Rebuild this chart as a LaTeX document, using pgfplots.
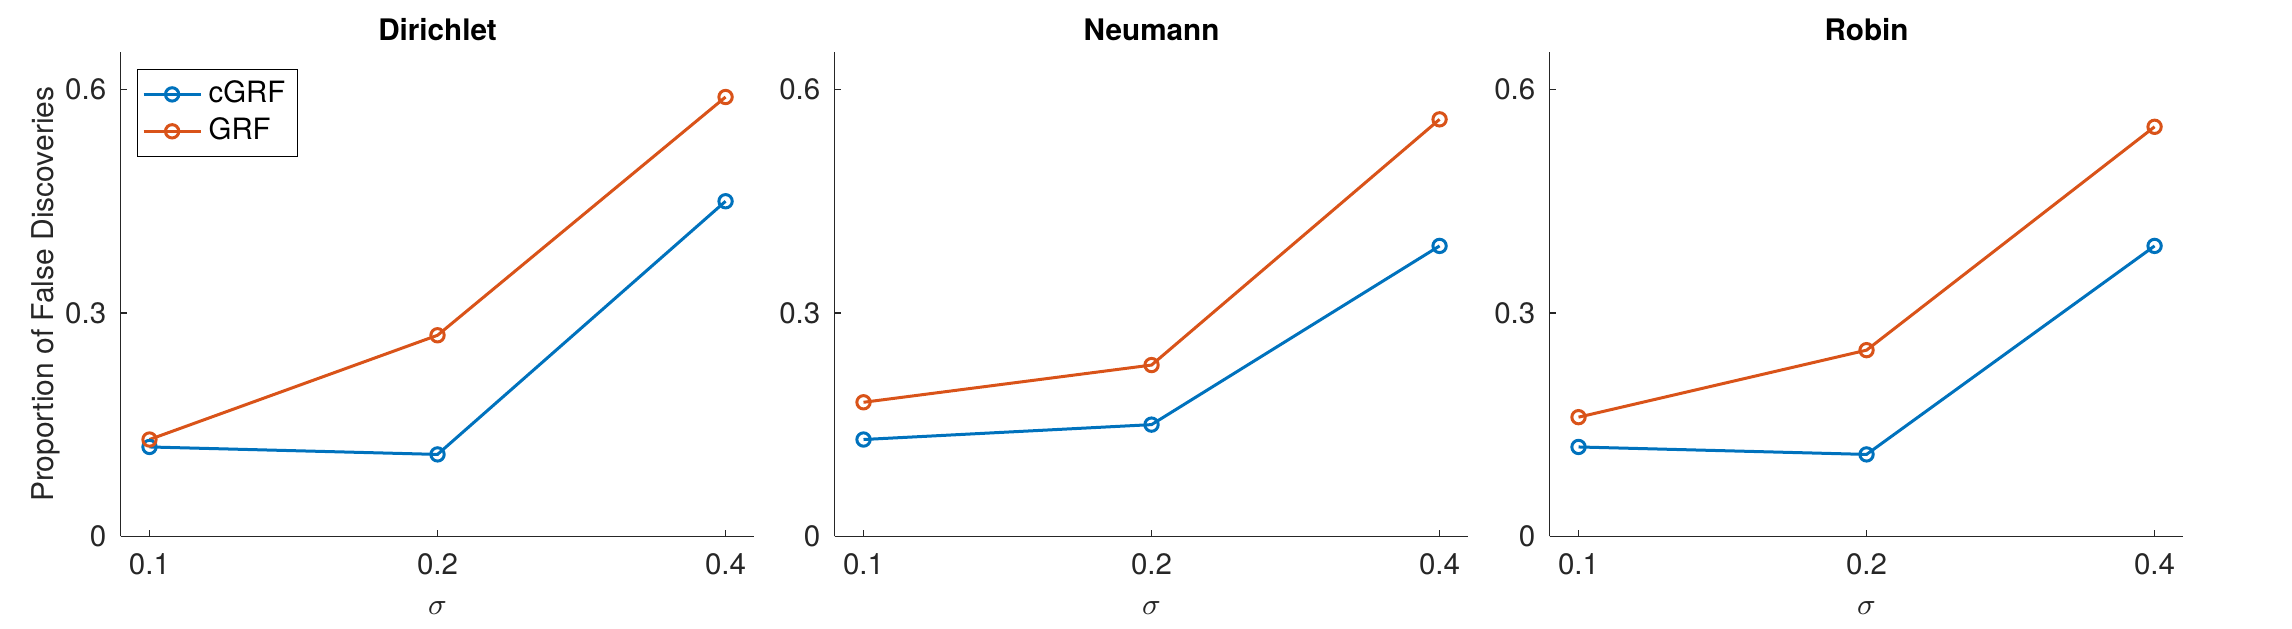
\documentclass[border=0pt]{standalone}
\usepackage{fontspec}
\setmainfont{TeX Gyre Heros}
\usepackage{pgfplots}
\pgfplotsset{compat=1.18}
\definecolor{mblue}{rgb}{0,0.447,0.741}
\definecolor{morange}{rgb}{0.85,0.325,0.098}
\definecolor{mgray}{rgb}{0.15,0.15,0.15}
\pgfplotsset{
 panel/.style={
  width=190.1pt, height=145.2pt, scale only axis,
  anchor=south west,
  axis lines=left, axis line style={-, mgray, line width=0.35pt},
  xmin=-0.1, xmax=2.1, ymin=0, ymax=0.65,
  xtick={0,1,2}, xticklabels={0.1,0.2,0.4},
  ytick={0,0.3,0.6}, yticklabels={0,0.3,0.6},
  tick align=inside, major tick length=2pt,
  tick style={mgray, line width=0.35pt},
  ticklabel style={font=\fontsize{8.85}{10}\selectfont, text=mgray},
  xticklabel style={anchor=base, yshift=-11.6pt},
  yticklabel style={anchor=east, xshift=-0.8pt},
  xlabel={$\sigma$},
  xlabel style={font=\fontsize{9}{10}\selectfont, text=mgray,
    at={(axis description cs:0.5,0)}, anchor=base, yshift=-23.5pt},
  ylabel style={font=\fontsize{9}{10}\selectfont, text=mgray,
    at={(axis description cs:0,0.5)}, anchor=center, yshift=22.5pt},
  every axis title shift=0pt,
  title style={font=\fontsize{8.9}{11}\selectfont\bfseries, text=black,
    at={(axis description cs:0.5,1)}, anchor=base, yshift=3.5pt},
  every axis plot/.append style={line width=0.9pt, mark=o, mark size=2pt, mark options={solid}},
  legend style={at={(0.0252,0.966)}, anchor=north west, draw=black, line width=0.3pt,
    font=\fontsize{8.8}{10}\selectfont, fill=white, inner sep=1.5pt, row sep=-1pt},
  legend cell align=left,
 }
}
\begin{document}
\begin{tikzpicture}
\path[use as bounding box] (0,0) rectangle (687.6pt,188.4pt);
\begin{axis}[panel, at={(36.21pt,27.51pt)}, title={Dirichlet},
  ylabel={Proportion of False Discoveries}]
\addplot[mblue] coordinates {(0,0.12) (1,0.11) (2,0.45)};
\addlegendentry{cGRF}
\addplot[morange] coordinates {(0,0.13) (1,0.27) (2,0.59)};
\addlegendentry{GRF}
\end{axis}
\begin{axis}[panel, at={(250.41pt,27.51pt)}, title={Neumann}]
\addplot[mblue] coordinates {(0,0.13) (1,0.15) (2,0.39)};
\addplot[morange] coordinates {(0,0.18) (1,0.23) (2,0.56)};
\end{axis}
\begin{axis}[panel, at={(464.91pt,27.51pt)}, title={Robin}]
\addplot[mblue] coordinates {(0,0.12) (1,0.11) (2,0.39)};
\addplot[morange] coordinates {(0,0.16) (1,0.25) (2,0.55)};
\end{axis}
\end{tikzpicture}
\end{document}
